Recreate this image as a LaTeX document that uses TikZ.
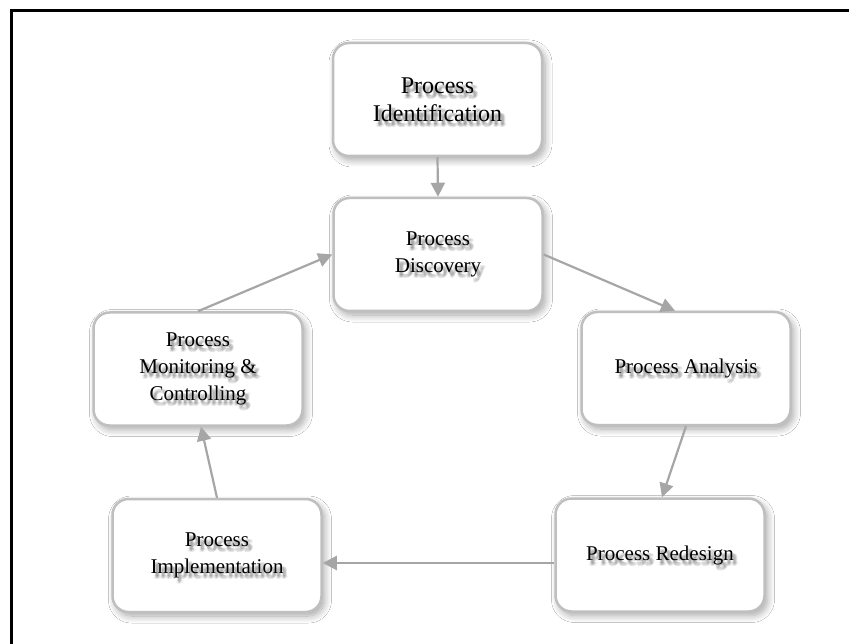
\documentclass[tikz,border=0pt]{standalone}
\usepackage{fontspec}
\setmainfont{Liberation Serif}
\usetikzlibrary{arrows.meta,shadows.blur,calc}
\definecolor{boxgray}{RGB}{191,191,191}
\definecolor{arrgray}{RGB}{166,166,166}
\tikzset{
  box/.style={draw=boxgray, line width=2.5pt, rounded corners=16pt, fill=white,
    minimum width=209pt, minimum height=113pt, inner sep=0pt,
    blur shadow={shadow xshift=3pt, shadow yshift=-4pt, shadow blur steps=10,
      shadow opacity=35, shadow blur radius=7pt}},
  tshadow/.style={align=center, text=black, text opacity=0.09},
  ttext/.style={align=center, text=black},
  arr/.style={draw=arrgray, line width=2.2pt, -{Triangle[length=14pt,width=14pt]}},
  bigf/.style={font=\fontsize{24}{28}\selectfont},
  smallf/.style={font=\fontsize{21}{26.7}\selectfont},
}
\newcommand\stagebox[5]{%
  \node[box] (#1) at (#2,#3) {};
  \foreach \dx/\dy [count=\k] in {3/-4,2/-3,4/-5,2/-5,4/-3,3/-6,5/-4}
    \node[tshadow,#4] (#1-s\k) at ([xshift=\dx pt, yshift=\dy pt]#1.center) {#5};
  \node[ttext,#4] (#1-t) at (#1.center) {#5};
}
\begin{document}
\begin{tikzpicture}[x=1pt,y=-1pt]
\useasboundingbox (0,0) rectangle (849,644);
\fill[white] (0,0) rectangle (849,644);
\draw[line width=3pt] (11,644) -- (11,11) -- (849,11);

\stagebox{ident}{437.5}{99.5}{bigf}{Process\\Identification}
\stagebox{disc}{438}{254.5}{smallf}{Process\\Discovery}
\stagebox{mon}{198}{369}{smallf}{Process\\Monitoring \&\\Controlling}
\stagebox{ana}{686}{368.5}{smallf}{Process Analysis}
\stagebox{imp}{217}{555.5}{smallf}{Process\\Implementation}
\stagebox{red}{660}{555}{smallf}{Process Redesign}

\draw[arr] (ident.south) -- (disc.north);
\draw[arr] (disc.east) -- ($(ana.north)+(-11,0)$);
\draw[arr] (ana.south) -- ($(red.north)+(2,0)$);
\draw[arr] ($(red.west)+(0,8)$) -- ($(imp.east)+(0,7.5)$);
\draw[arr] (imp.north) -- ($(mon.south)+(3,0)$);
\draw[arr] (mon.north) -- (disc.west);
\end{tikzpicture}
\end{document}
